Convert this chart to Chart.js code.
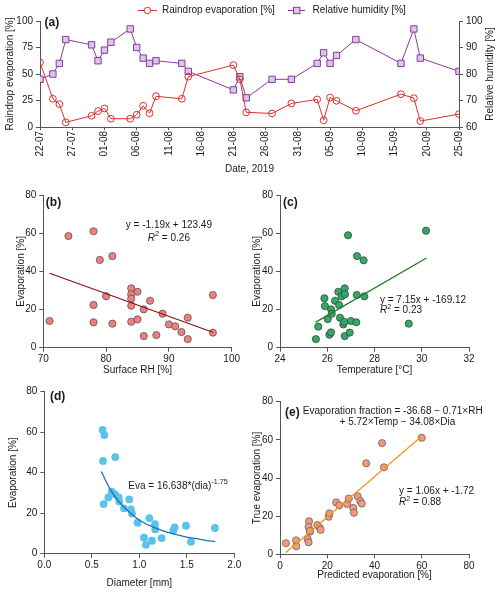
<!DOCTYPE html>
<html>
<head>
<meta charset="utf-8">
<script src="https://cdn.jsdelivr.net/npm/chart.js@4.4.1/dist/chart.umd.min.js"></script>
<style>
    body { margin: 0; background: #fff; width: 500px; height: 594px; position: relative; overflow: hidden; }
    .panel { position: absolute; }
</style>
</head>
<body>
<div class="panel" style="left:0;top:0;width:500px;height:190px"><canvas id="chartA"></canvas></div>
<div class="panel" style="left:0;top:185px;width:250px;height:200px"><canvas id="chartB"></canvas></div>
<div class="panel" style="left:250px;top:185px;width:250px;height:200px"><canvas id="chartC"></canvas></div>
<div class="panel" style="left:0;top:380px;width:250px;height:214px"><canvas id="chartD"></canvas></div>
<div class="panel" style="left:250px;top:380px;width:250px;height:214px"><canvas id="chartE"></canvas></div>
<script>
// (a) daily series, 2019
const sampleDates = ['22-07','24-07','25-07','26-07','30-07','31-07','01-08','02-08','05-08','06-08',
    '07-08','08-08','09-08','13-08','14-08','21-08','22-08','23-08','27-08','30-08',
    '03-09','04-09','05-09','06-09','09-09','16-09','18-09','19-09','25-09'];
const raindropEvap = [61, 26.6, 21.6, 4.4, 10.6, 15, 17.5, 7.8, 7.8, 11.6,
    20, 13, 29, 26.6, 47.5, 58.4, 45, 13.8, 12.8, 22.2,
    26, 6.3, 27.8, 24.7, 15.3, 31, 27.2, 5.6, 12.2];
const relHumidity = [78, 80, 84, 93, 91, 85, 89, 92, 97, 90,
    86, 84, 85, 84, 81, 74, 79, 71, 78, 78,
    84, 88, 84, 87, 93, 84, 97, 86, 81];

// (b) evaporation vs surface RH
const rhX = [71, 74, 78, 78, 78, 79, 80, 81, 81, 84, 84, 84, 84, 84, 85, 85, 86, 86, 87, 88, 89, 90, 91, 92, 93, 93, 97, 97];
const rhY = [14, 58.5, 61, 22.4, 13.3, 46, 27, 48, 12.6, 31.1, 28, 25.7, 22, 13.6, 29.3, 14.8, 20.1, 6.1, 24.6, 6.6, 17.8, 12.2, 11.2, 8.2, 15.7, 4.5, 27.6, 7.9];
const rhFitX = [71, 97];
const rhFitY = [39.0, 8.1];

// (c) evaporation vs temperature
const tempX = [25.52, 25.62, 25.88, 25.9, 26.02, 26.09, 26.16, 26.16, 26.19, 26.33, 26.47, 26.5, 26.54, 26.61, 26.68,
    26.74, 26.75, 26.72, 26.74, 26.88, 26.95, 27.0, 27.23, 27.25, 27.26, 27.54, 27.57, 29.45, 30.18];
const tempY = [4.5, 11, 25.9, 21.8, 15, 6.8, 8, 20.1, 17.8, 24.6, 29.3, 22.4, 15.7, 26.9, 12.2,
    31.1, 28, 13.6, 6.1, 58.9, 7.9, 14, 13.3, 27.6, 48, 45.8, 26.9, 12.6, 61.3];
const tempFitX = [25.5, 30.2];
const tempFitY = [13.3, 47.0];

// (d) evaporation vs drop diameter
const diaX = [0.614, 0.632, 0.618, 0.625, 0.747, 0.674, 0.709, 0.744, 0.782, 0.789, 0.839, 0.895, 0.912, 0.923,
    0.982, 1.049, 1.07, 1.105, 1.133, 1.165, 1.168, 1.235, 1.358, 1.372, 1.491, 1.544, 1.796];
const diaY = [61.1, 58.6, 45.8, 24.5, 47.7, 27.8, 30.6, 29.3, 27.8, 25.8, 22.4, 26.8, 21.9, 19.9,
    15.3, 7.9, 4.4, 17.6, 6.4, 14.6, 12, 7.7, 11.4, 13, 13.8, 5.9, 12.7];
const diaFitX = [0.6, 0.7, 0.8, 0.9, 1.0, 1.1, 1.2, 1.3, 1.4, 1.5, 1.6, 1.7, 1.8];
const diaFitY = [40.6, 31.3, 24.9, 20.4, 16.6, 14.1, 12.1, 10.5, 9.3, 8.2, 7.4, 6.6, 6.0];

// (e) true vs predicted
const predX = [2.5, 6.8, 6.9, 11.7, 12.1, 12.7, 12.3, 12.1, 12.7, 15.8, 16.8, 17.2, 20.6, 20.9, 23.8, 25.1,
    28.4, 29.1, 31, 31.3, 32.9, 34, 34.6, 36.5, 43.2, 44, 60];
const trueY = [5.8, 7.3, 4.2, 8.0, 6.3, 11.9, 17.3, 14.3, 12.2, 15.3, 13.9, 12.8, 19.7, 21.5, 27.2, 25.7,
    26.4, 29.2, 24.3, 21.8, 30.4, 27.9, 26.6, 47.7, 58.3, 45.6, 61.1];
const predFitX = [2.5, 60];
const predFitY = [0.9, 61.9];

const FONT = '"Liberation Sans", Arial, Helvetica, sans-serif';
const AXIS = '#555';
const INK = '#1a1a1a';
Chart.defaults.font.family = FONT;
Chart.defaults.font.size = 10;
Chart.defaults.color = INK;
Chart.defaults.animation = false;

const startDate = new Date(2019, 6, 22);
function dayOf(s) {
    let p = s.split('-');
    return Math.round((new Date(2019, +p[1] - 1, +p[0]) - startDate) / 86400000);
}
function dayLabel(v) {
    let d = new Date(2019, 6, 22 + v);
    return String(d.getDate()).padStart(2, '0') + '-' + String(d.getMonth() + 1).padStart(2, '0');
}
function pairs(xs, ys) {
    return xs.map((x, i) => ({ x: x, y: ys[i] }));
}

function axis(pos, min, max, step, title, titlePad, size, fmt) {
    let a = {
        type: 'linear', position: pos, min: min, max: max,
        grid: { drawOnChartArea: false, drawTicks: true, tickLength: 4, color: AXIS },
        border: { color: AXIS, width: 1 },
        ticks: { stepSize: step, padding: pos === 'bottom' ? 2 : 3, color: INK, font: { size: 10 }, autoSkip: false, maxRotation: 0 },
        title: {
            display: true, text: title, color: INK, font: { size: 10 },
            padding: pos === 'bottom' ? { top: 0, bottom: titlePad } : { top: titlePad, bottom: 0 }
        },
        afterFit: function(s) {
            if (s.isHorizontal()) s.height = size; else s.width = size;
        }
    };
    if (fmt) a.ticks.callback = fmt;
    return a;
}

function drawRich(ctx, parts, x, y, align, size) {
    let segs = parts.map(function(p) {
        let s = p.sup ? size * 0.72 : size;
        let f = (p.italic ? 'italic ' : '') + s + 'px ' + FONT;
        ctx.font = f;
        return { t: p.t, f: f, w: ctx.measureText(p.t).width, dy: p.sup ? -size * 0.4 : 0 };
    });
    let total = segs.reduce((a, s) => a + s.w, 0);
    let cx = align === 'center' ? x - total / 2 : x;
    ctx.textBaseline = 'middle';
    ctx.textAlign = 'left';
    segs.forEach(function(s) {
        ctx.font = s.f;
        ctx.fillText(s.t, cx, y + s.dy);
        cx += s.w;
    });
}

function panelText(label, dx, dy, notes) {
    return {
        id: 'panelText',
        afterDatasetsDraw: function(chart) {
            let ctx = chart.ctx, ca = chart.chartArea;
            ctx.save();
            ctx.fillStyle = INK;
            ctx.font = 'bold 12px ' + FONT;
            ctx.textBaseline = 'middle';
            ctx.textAlign = 'left';
            ctx.fillText(label, ca.left + dx, ca.top + dy);
            notes.forEach(function(n) {
                drawRich(ctx, n.parts, chart.scales.x.getPixelForValue(n.x), chart.scales.y.getPixelForValue(n.y), n.align, 10);
            });
            ctx.restore();
        }
    };
}

function scatterChart(id, pts, fit, style, xAx, yAx, padRight, padTop, label, dx, dy, notes, curved) {
    return new Chart(document.getElementById(id), {
        type: 'scatter',
        data: {
            datasets: [{
                data: fit,
                showLine: true,
                borderColor: style.line,
                borderWidth: 1.3,
                pointRadius: 0,
                tension: curved ? 0.4 : 0,
                order: 0
            }, {
                data: pts,
                backgroundColor: style.fill,
                borderColor: style.edge,
                borderWidth: style.edgeWidth,
                pointRadius: style.r,
                order: 1
            }]
        },
        options: {
            responsive: true,
            maintainAspectRatio: false,
            layout: { padding: { top: padTop, right: padRight, left: 0, bottom: 0 } },
            plugins: { legend: { display: false }, tooltip: { enabled: false } },
            scales: { x: xAx, y: yAx }
        },
        plugins: [panelText(label, dx, dy, notes)]
    });
}

// ---- (a) ----
const evapPts = sampleDates.map((d, i) => ({ x: dayOf(d), y: raindropEvap[i] }));
const rhPts = sampleDates.map((d, i) => ({ x: dayOf(d), y: relHumidity[i] }));
const RED = '#d9302c';
const PURPLE = '#8a3a9a';

const xA = axis('bottom', 0, 65, 5, 'Date, 2019', 15, 63, dayLabel);
xA.ticks.maxRotation = 90;
xA.ticks.minRotation = 90;
xA.ticks.padding = 1;
xA.grid.tickLength = 3;
const yA = axis('left', 0, 100, 25, 'Raindrop evaporation [%]', 4, 40);
const yA2 = axis('right', 60, 100, 10, '', 0, 41);
yA2.title.display = false;

const legendA = {
    id: 'legendA',
    afterDraw: function(chart) {
        let ctx = chart.ctx, ca = chart.chartArea;
        ctx.save();
        ctx.lineWidth = 1;
        ctx.strokeStyle = RED;
        ctx.beginPath(); ctx.moveTo(138, 10.5); ctx.lineTo(157, 10.5); ctx.stroke();
        ctx.fillStyle = '#fff';
        ctx.beginPath(); ctx.arc(147.5, 10.5, 3.2, 0, Math.PI * 2); ctx.fill(); ctx.stroke();
        ctx.strokeStyle = PURPLE;
        ctx.beginPath(); ctx.moveTo(288, 10.5); ctx.lineTo(305, 10.5); ctx.stroke();
        ctx.fillStyle = '#dcc4f0';
        ctx.fillRect(293.5, 7.3, 6.4, 6.4); ctx.strokeRect(293.5, 7.3, 6.4, 6.4);
        ctx.fillStyle = INK;
        ctx.font = '10px ' + FONT;
        ctx.textBaseline = 'middle';
        ctx.textAlign = 'left';
        ctx.fillText('Raindrop evaporation [%]', 162, 10.5);
        ctx.fillText('Relative humidity [%]', 312.5, 10.5);
        // right axis title, reading upward like the left one
        ctx.translate(490, (ca.top + ca.bottom) / 2);
        ctx.rotate(-Math.PI / 2);
        ctx.textAlign = 'center';
        ctx.fillText('Relative humidity [%]', 0, 0);
        ctx.restore();
    }
};

new Chart(document.getElementById('chartA'), {
    type: 'line',
    data: {
        datasets: [{
            data: evapPts,
            yAxisID: 'y',
            borderColor: RED,
            borderWidth: 1,
            pointStyle: 'circle',
            pointRadius: 3.4,
            pointBorderWidth: 1,
            pointBackgroundColor: 'rgba(255,255,255,0)',
            pointBorderColor: RED
        }, {
            data: rhPts,
            yAxisID: 'y2',
            borderColor: PURPLE,
            borderWidth: 1,
            pointStyle: 'rect',
            pointRadius: 4.5,
            pointBorderWidth: 1,
            pointBackgroundColor: '#dcc4f0',
            pointBorderColor: PURPLE
        }]
    },
    options: {
        responsive: true,
        maintainAspectRatio: false,
        parsing: false,
        layout: { padding: { top: 21, right: 0, left: 0, bottom: 0 } },
        plugins: { legend: { display: false }, tooltip: { enabled: false } },
        scales: { x: xA, y: yA, y2: yA2 }
    },
    plugins: [panelText('(a)', 4.5, 1.8, []), legendA]
});

// ---- (b) ----
scatterChart('chartB', pairs(rhX, rhY), pairs(rhFitX, rhFitY),
    { fill: '#ef7f7f', edge: '#555', edgeWidth: 0.8, r: 3.6, line: '#8b1414' },
    axis('bottom', 70, 100, 10, 'Surface RH [%]', 8.5, 37.3),
    axis('left', 0, 80, 20, 'Evaporation [%]', 15, 43.3),
    18.3, 10, '(b)', 2.5, 8, [
        { x: 90, y: 64.3, align: 'center', parts: [{ t: 'y = -1.19x + 123.49' }] },
        { x: 90, y: 57.3, align: 'center', parts: [{ t: 'R', italic: true }, { t: '2', sup: true }, { t: ' = 0.26' }] }
    ]);

// ---- (c) ----
scatterChart('chartC', pairs(tempX, tempY), pairs(tempFitX, tempFitY),
    { fill: '#34a86a', edge: '#2d4d38', edgeWidth: 0.8, r: 3.6, line: '#217a21' },
    axis('bottom', 24, 32, 2, 'Temperature [°C]', 9, 37.3),
    axis('left', 0, 80, 20, 'Evaporation [%]', 1, 30),
    31, 10, '(c)', 3, 8, [
        { x: 28.23, y: 25, align: 'left', parts: [{ t: 'y = 7.15x + -169.12' }] },
        { x: 28.23, y: 19.4, align: 'left', parts: [{ t: 'R', italic: true }, { t: '2', sup: true }, { t: ' = 0.23' }] }
    ]);

// ---- (d) ----
scatterChart('chartD', pairs(diaX, diaY), pairs(diaFitX, diaFitY),
    { fill: '#5bc2ea', edge: '#5bc2ea', edgeWidth: 0, r: 3.9, line: '#1f72c0' },
    axis('bottom', 0, 2, 0.5, 'Diameter [mm]', 4.5, 40.3, v => v.toFixed(1)),
    axis('left', 0, 80, 20, 'Evaporation [%]', 7, 44.3),
    15.7, 11.7, '(d)', 5.7, 5, [
        { x: 0.884, y: 33.4, align: 'left', parts: [{ t: 'Eva = 16.638*(dia)' }, { t: '-1.75', sup: true }] }
    ], true);

// ---- (e) ----
scatterChart('chartE', pairs(predX, trueY), pairs(predFitX, predFitY),
    { fill: '#f59a78', edge: '#666', edgeWidth: 0.8, r: 3.6, line: '#f29a1c' },
    axis('bottom', 0, 80, 20, 'Predicted evaporation [%]', 13, 39.7),
    axis('left', 0, 80, 20, 'True evaporation [%]', 1, 30),
    31, 21.7, '(e)', 5, 11, [
        { x: 47.7, y: 74.8, align: 'center', parts: [{ t: 'Evaporation fraction = -36.68 \u2212 0.71\u00d7RH' }] },
        { x: 49.7, y: 69.2, align: 'center', parts: [{ t: '+ 5.72\u00d7Temp \u2212 34.08\u00d7Dia' }] },
        { x: 50.4, y: 32.8, align: 'left', parts: [{ t: 'y = 1.06x + -1.72' }] },
        { x: 50.4, y: 27.1, align: 'left', parts: [{ t: 'R', italic: true }, { t: '2', sup: true }, { t: ' = 0.88' }] }
    ]);
</script>
</body>
</html>
